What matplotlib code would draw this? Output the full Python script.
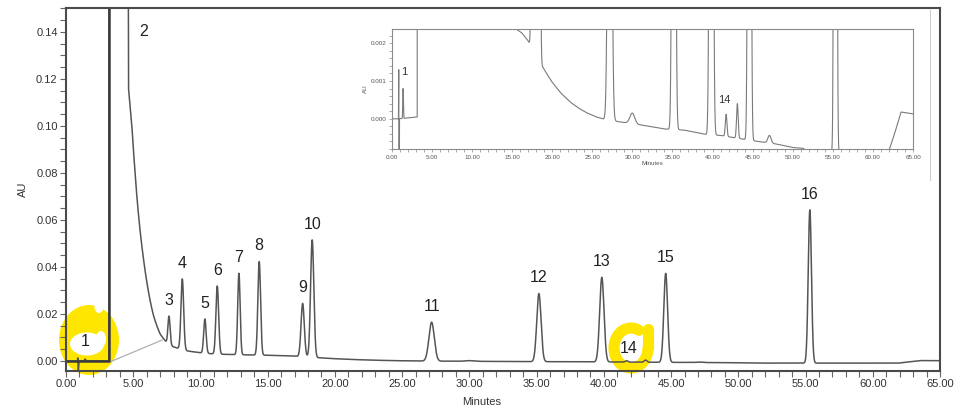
import numpy as np
import matplotlib
matplotlib.use('Agg')
import matplotlib.pyplot as plt
import matplotlib.transforms as mtransforms
from matplotlib.patches import Ellipse
from matplotlib.ticker import MultipleLocator, FormatStrFormatter

plt.rcParams['font.family'] = ['Liberation Sans', 'DejaVu Sans']

# baseline of the chromatogram (minutes, AU)
base_t = [0.0, 0.84, 0.88, 0.92, 0.96, 3.18, 3.20, 4.58, 4.65, 4.90, 5.10, 5.30, 5.50,
          5.75, 6.00, 6.50, 7.00, 7.50, 8.00, 9.00, 10.0, 11.0, 12.0, 13.4, 14.5, 15.5,
          16.2, 16.9, 17.8, 18.7, 19.9, 21.1, 22.4, 23.4, 24.3, 25.5, 26.6, 28.7, 31.6,
          34.0, 36.5, 39.3, 41.0, 45.0, 48.0, 50.0, 51.3, 52.0, 61.9, 63.5, 65.0]
base_au = [0.0, 0.0, 0.0013, -0.0040, 0.0, 0.00005, 0.6, 0.6, 0.116, 0.100, 0.083,
           0.068, 0.056, 0.044, 0.034, 0.0195, 0.0115, 0.0078, 0.0060, 0.0043, 0.0035,
           0.0030, 0.0028, 0.0026, 0.0025, 0.00238, 0.00228, 0.0021, 0.00178, 0.00142,
           0.00100, 0.00068, 0.00042, 0.00027, 0.00016, 0.00005, -0.00002, -0.00009,
           -0.00018, -0.00027, -0.0003, -0.00042, -0.00044, -0.00058, -0.00067,
           -0.00076, -0.00078, -0.0009, -0.0009, 0.00018, 0.00013]

# peaks: label, retention time, apex (AU), width (sigma, min)
peak_names = ['1', '3', '4', '5', '6', '7', '8', '9', '10', '11', '', '12', '13',
              '14', '', '15', '', '16']
peak_times = [1.42, 7.66, 8.65, 10.33, 11.25, 12.86, 14.37, 17.60, 18.31, 27.19, 30.0,
              35.17, 39.85, 41.70, 43.10, 44.60, 47.10, 55.32]
peak_apex = [0.0008, 0.0191, 0.0349, 0.0179, 0.0319, 0.0373, 0.0423, 0.0245, 0.0515,
             0.0165, 0.00015, 0.0287, 0.0356, 0.00012, 0.0004, 0.0373, -0.00044, 0.0643]
peak_sigma = [0.04, 0.08, 0.10, 0.09, 0.10, 0.09, 0.10, 0.12, 0.12, 0.20, 0.30, 0.16,
              0.16, 0.10, 0.10, 0.14, 0.20, 0.12]

# labels placed by hand in the original
main_text_pos = {'1': (1.41, 0.0082), '2': (5.8, 0.140), '14': (41.86, 0.0055)}
inset_text_pos = {'1': (1.6, 0.0011), '14': (41.5, 0.00037)}
solvent_front = 3.2
peak2_baseline = ([3.27, 7.14], [-0.0004, 0.0089])

# join the baseline readings in log space so the decaying tail stays smooth
off = 0.005
t = np.linspace(0, 65, 13001)
base = np.exp(np.interp(t, base_t, np.log(np.array(base_au) + off))) - off
signal = base.copy()
for pt, pa, ps in zip(peak_times, peak_apex, peak_sigma):
    h = pa - np.interp(pt, t, base)
    signal = signal + h * np.exp(-0.5 * ((t - pt) / ps) ** 2)

W, H = 956, 412
fig = plt.figure(figsize=(W / 100, H / 100), dpi=100)
ax = fig.add_axes([66 / W, 41 / H, 874 / W, 363 / H])

# yellow marker highlights (drawn in pixel space, under the trace)
px = mtransforms.Affine2D().scale(1, -1).translate(0, H)
ax.add_patch(Ellipse((89, 340), 60, 70, color='#ffe600', lw=0, transform=px, zorder=0,
                     clip_on=False))
ax.add_patch(Ellipse((87, 344), 34, 23, color='white', lw=0, transform=px, zorder=0.5,
                     clip_on=False))
ax.add_patch(Ellipse((101, 339), 10, 16, color='white', lw=0, transform=px, zorder=0.5,
                     clip_on=False))
ax.add_patch(Ellipse((99, 307), 9, 12, color='white', lw=0, transform=px, zorder=0.5,
                     clip_on=False))
th = np.radians(np.linspace(62, 360, 200))
ax.plot(631 + 17 * np.cos(th), 348 - 20 * np.sin(th), color='#ffe600', lw=8,
        solid_capstyle='round', transform=px, zorder=0, clip_on=False)
ax.plot([648, 648], [348, 329], color='#ffe600', lw=8, solid_capstyle='round',
        transform=px, zorder=0, clip_on=False)

ax.plot(t, signal, color='#555555', lw=1.1, zorder=3)
ax.plot([0, solvent_front, solvent_front], [0, 0, 0.2], color='#3a3a3a', lw=1.8, zorder=3)
ax.plot(peak2_baseline[0], peak2_baseline[1], color='#b0b0b0', lw=0.9, zorder=2)

ax.set_xlim(0, 65)
ax.set_ylim(-0.00426, 0.1502)
ax.xaxis.set_major_locator(MultipleLocator(5))
ax.xaxis.set_minor_locator(MultipleLocator(1))
ax.yaxis.set_major_locator(MultipleLocator(0.02))
ax.yaxis.set_minor_locator(MultipleLocator(0.005))
ax.xaxis.set_major_formatter(FormatStrFormatter('%.2f'))
ax.yaxis.set_major_formatter(FormatStrFormatter('%.2f'))
ax.tick_params(which='both', direction='out', length=4, width=0.8, color='#666666',
               labelsize=8, labelcolor='#333333', pad=2)
for s in ax.spines.values():
    s.set_color('#4a4a4a')
    s.set_linewidth(1.5)
    s.set_zorder(5)
ax.set_xlabel('Minutes', fontsize=8, color='#333333')
ax.xaxis.set_label_coords((482 - 66) / 874, -0.072)
ax.set_ylabel('AU', fontsize=8, color='#333333')
ax.yaxis.set_label_coords(-0.044, 0.5)

for name, pt, pa in zip(peak_names, peak_times, peak_apex):
    if name and name not in main_text_pos:
        ax.annotate(name, (pt, pa), xytext=(0, 6), textcoords='offset points',
                    ha='center', va='bottom', fontsize=11.5, color='#222222', zorder=4)
for name, (x, y) in main_text_pos.items():
    ax.text(x, y, name, ha='center', va='center', fontsize=11.5, color='#222222', zorder=4)

# inset: same run, zoomed on the baseline
ins = fig.add_axes([391.7 / W, (H - 149) / H, (913 - 391.7) / W, (149 - 29.3) / H])
ins.plot(t, signal, color='#7a7a7a', lw=0.8)
ins.set_xlim(0, 65)
ins.set_ylim(-0.0008, 0.00237)
ins.xaxis.set_major_locator(MultipleLocator(5))
ins.xaxis.set_minor_locator(MultipleLocator(1))
ins.yaxis.set_major_locator(MultipleLocator(0.001))
ins.yaxis.set_minor_locator(MultipleLocator(0.0002))
ins.xaxis.set_major_formatter(FormatStrFormatter('%.2f'))
ins.yaxis.set_major_formatter(FormatStrFormatter('%.3f'))
ins.tick_params(which='both', direction='out', length=2.5, width=0.5, color='#888888',
                labelsize=4.5, labelcolor='#555555', pad=1.5)
for s in ins.spines.values():
    s.set_color('#8a8a8a')
    s.set_linewidth(0.8)
ins.set_xlabel('Minutes', fontsize=4.5, color='#555555', labelpad=1)
ins.set_ylabel('AU', fontsize=4.5, color='#555555', labelpad=2)
for name, (x, y) in inset_text_pos.items():
    ins.text(x, y, name, ha='center', va='bottom', fontsize=8, color='#333333')

fig.add_artist(plt.Line2D([930 / W, 930 / W], [(H - 10) / H, (H - 180) / H],
                          color='#cccccc', lw=0.8))

fig.savefig('out.png', dpi=100)
